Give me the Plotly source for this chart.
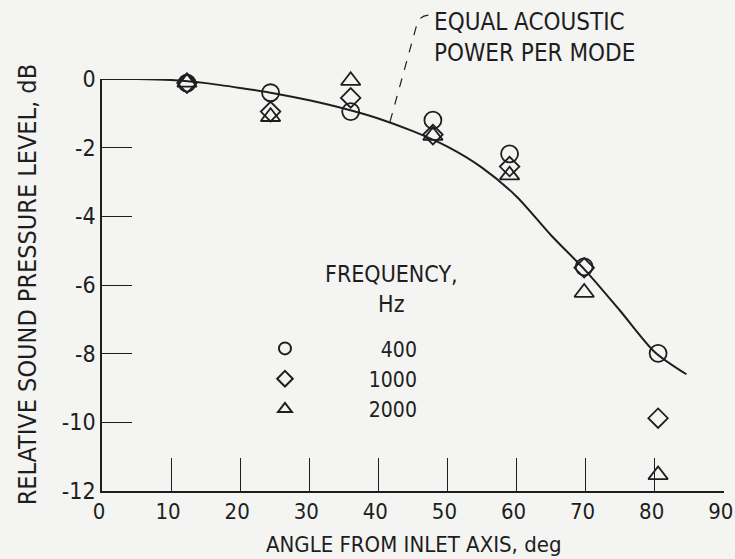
import plotly.graph_objects as go

# ---- data ----
angle_deg = [12.3, 24.4, 36.0, 47.9, 59.0, 69.8, 80.5]
spl_400 = [-0.12, -0.40, -0.95, -1.20, -2.18, -5.47, -7.99]
spl_1000 = [-0.12, -0.95, -0.55, -1.62, -2.55, -5.50, -9.88]
spl_2000 = [-0.10, -1.10, -0.05, -1.65, -2.80, -6.22, -11.53]

curve_angle = [0, 5, 10, 15, 20, 25, 30, 35, 40, 45, 50, 55, 60, 65, 70, 75, 80, 84.6]
curve_spl = [0, 0, -0.03, -0.12, -0.26, -0.42, -0.62, -0.86, -1.15, -1.52, -1.97, -2.58, -3.42, -4.55, -5.58, -6.75, -7.95, -8.6]

x_ticks = [0, 10, 20, 30, 40, 50, 60, 70, 80, 90]
y_ticks = [0, -2, -4, -6, -8, -10, -12]
y_tick_text = ["0", "-2", "-4", "-6", "-8", "-10", "-12"]
freq_labels = ["400", "1000", "2000"]

FONT = "Liberation Sans Narrow, DejaVu Sans Condensed, Arial Narrow, sans-serif"
INK = "#1e1e1e"
BG = "#f4f4f2"

fig = go.Figure()

fig.add_trace(go.Scatter(
    x=curve_angle, y=curve_spl, mode="lines",
    line=dict(color=INK, width=2, shape="spline", smoothing=0.8),
    showlegend=False, hoverinfo="skip", cliponaxis=False))

FS = "\u2007"
def pad(s):
    return FS * (9 - len(s)) + "\u2009" + s

series = [
    (spl_400, "circle-open", 17, freq_labels[0]),
    (spl_1000, "diamond-open", 15, freq_labels[1]),
    (spl_2000, "triangle-up-open", 17, freq_labels[2]),
]
for vals, sym, size, lab in series:
    fig.add_trace(go.Scatter(
        x=angle_deg, y=vals, mode="markers", name=pad(lab),
        marker=dict(symbol=sym, size=size, color=INK, line=dict(color=INK, width=1.8)),
        cliponaxis=False))

fig.update_layout(
    width=735, height=559,
    margin=dict(l=102, r=11, t=79, b=68, autoexpand=False),
    paper_bgcolor=BG, plot_bgcolor=BG,
    font=dict(family=FONT, size=23, color=INK),
    xaxis=dict(range=[0, 90.04], tickvals=x_ticks, ticks="inside", ticklen=33,
               tickwidth=1.3, tickcolor=INK, showline=True, linecolor=INK,
               linewidth=1.5, showgrid=False, zeroline=False, automargin=False,
               ticklabeloverflow="allow", ticklabelshift=-3,
               tickfont=dict(size=22)),
    yaxis=dict(range=[-12, 0], tickvals=y_ticks, ticktext=y_tick_text,
               ticks="inside", ticklen=30, tickwidth=1.3, tickcolor=INK,
               showline=True, linecolor=INK, linewidth=1.5, showgrid=False,
               zeroline=False, automargin=False, tickfont=dict(size=23)),
    legend=dict(x=0.262, y=0.395, xanchor="left", yanchor="top",
                bgcolor="rgba(0,0,0,0)", font=dict(size=21),
                itemsizing="constant"),
    showlegend=True,
)

fig.add_annotation(text="ANGLE FROM INLET AXIS, deg", xref="paper", yref="paper",
                   x=0.5, y=-0.13, xanchor="center", yanchor="middle",
                   showarrow=False, font=dict(size=22))
fig.add_annotation(text="RELATIVE SOUND PRESSURE LEVEL, dB", xref="paper", yref="paper",
                   x=-0.12, y=0.5, xanchor="center", yanchor="middle", textangle=-90,
                   showarrow=False, font=dict(size=25))
fig.add_annotation(text="FREQUENCY,<br>Hz", xref="paper", yref="paper",
                   x=0.465, y=0.49, xanchor="center", yanchor="middle",
                   showarrow=False, font=dict(size=23))
fig.add_annotation(text="EQUAL ACOUSTIC<br>POWER PER MODE", xref="paper", yref="paper",
                   x=0.5305, y=1.1007, xanchor="left", yanchor="middle", align="left",
                   showarrow=False, font=dict(size=24))

fig.add_shape(type="path", xref="paper", yref="paper",
              path="M 0.463,0.896 L 0.5064,1.1335 Q 0.5113,1.1553 0.5273,1.1553",
              line=dict(color=INK, width=1.2, dash="dash"))

fig.write_html("out.html", config={"displayModeBar": False},
               post_script="document.body.style.margin='0';")
